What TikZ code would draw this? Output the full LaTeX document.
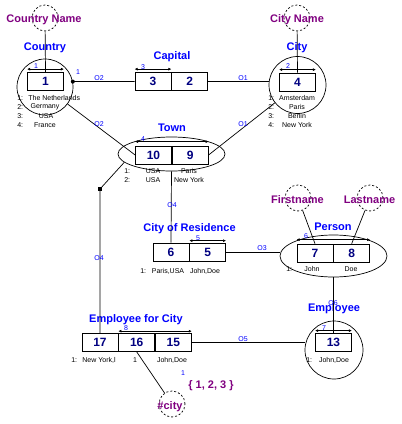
\documentclass[tikz,border=0pt]{standalone}
\usepackage{fontspec}
\setmainfont{Liberation Sans}
\usetikzlibrary{positioning,arrows.meta,shapes.geometric}
\definecolor{objblue}{RGB}{0,0,255}
\definecolor{valpurple}{RGB}{128,0,128}
\definecolor{rolenavy}{RGB}{0,0,128}
\begin{document}
\begin{tikzpicture}[x=1pt,y=-1pt,line width=0.7pt,
  role/.style={draw,rectangle,minimum width=36pt,minimum height=18pt,inner sep=0pt,
    font=\fontsize{12}{12}\selectfont\bfseries,text=rolenavy},
  entity/.style={draw,circle,minimum size=56pt,inner sep=0pt},
  nested/.style={draw,ellipse,minimum width=107pt,minimum height=36pt,inner sep=0pt},
  valuetype/.style={draw,dash pattern=on 2pt off 2pt,circle,minimum size=26pt,inner sep=0pt},
  objname/.style={font=\fontsize{11}{11}\selectfont\bfseries,text=objblue},
  valname/.style={font=\fontsize{11}{11}\selectfont\bfseries,text=valpurple},
  rolelink/.style={font=\fontsize{7}{7}\selectfont,text=objblue,inner sep=0pt},
  pop/.style={font=\fontsize{7}{7}\selectfont,inner sep=0pt},
  uniq/.style={{Latex[length=3pt,width=3pt]}-{Latex[length=3pt,width=3pt]}},
]
  \useasboundingbox (0,0) rectangle (402,424);

  % object types
  \node[valuetype] at (45,18) (cname) {};
  \node[valname] at (44,20) (cnamelbl) {Country Name};
  \node[objname] at (45,48) (countrylbl) {Country};
  \node[entity] at (45,87) (country) {};
  \node[role] at (45.5,81.5) (r1) {1};

  \node[valuetype] at (297,18) (ctname) {};
  \node[valname] at (297,20) (ctnamelbl) {City Name};
  \node[objname] at (297,48) (citylbl) {City};
  \node[entity,minimum size=57pt] at (297.5,85) (city) {};
  \node[role] at (297.5,82) (r4) {4};

  \node[objname] at (172,57) (capitallbl) {Capital};
  \node[role] at (153,81.5) (r3) {3};
  \node[role,right=0pt of r3] (r2) {2};

  \node[objname] at (172,128) (townlbl) {Town};
  \node[nested,minimum height=34pt] at (171.5,154) (town) {};
  \node[role] at (153.5,155) (r10) {10};
  \node[role,right=0pt of r10] (r9) {9};

  \node[objname] at (189.5,229) (resilbl) {City of Residence};
  \node[role] at (171,252) (r6) {6};
  \node[role,right=0pt of r6] (r5) {5};

  \node[valuetype] at (298,198) (fname) {};
  \node[valname] at (297.5,200) (fnamelbl) {Firstname};
  \node[valuetype] at (370,198) (lname) {};
  \node[valname] at (369.5,200) (lnamelbl) {Lastname};
  \node[objname] at (333,227) (personlbl) {Person};
  \node[nested,minimum height=42pt] at (333.5,256) (person) {};
  \node[role] at (315,253) (r7) {7};
  \node[role,right=0pt of r7] (r8) {8};

  \node[objname] at (334,309) (employeelbl) {Employee};
  \node[entity,minimum size=58pt] at (334,350) (employee) {};
  \node[role] at (333.5,342) (r13) {13};

  \node[objname] at (136,320) (efclbl) {Employee for City};
  \node[role] at (100,342.5) (r17) {17};
  \node[role,right=0pt of r17] (r16) {16};
  \node[role,right=0pt of r16] (r15) {15};

  \node[valuetype] at (172,404) (cityval) {};
  \node[valname] at (170,407) (cityvallbl) {\#city};
  \node[valname] at (211,386) (cityvalset) {\{ 1, 2, 3 \}};
  \node[rolelink] at (183,373) (cityvalnr) {1};

  % uniqueness constraints
  \draw[uniq] ([yshift=3pt]r1.north west) -- ([yshift=3pt]r1.north east);
  \draw[uniq] ([yshift=3pt]r4.north west) -- ([yshift=3pt]r4.north east);
  \draw[uniq] ([yshift=3pt]r3.north west) -- ([yshift=3pt]r3.north east);
  \draw[uniq] ([yshift=4pt]r10.north west) -- ([yshift=4pt]r9.north east);
  \draw[uniq] ([yshift=2pt]r5.north west) -- ([yshift=2pt]r5.north east);
  \draw[uniq] ([yshift=4pt]r7.north west) -- ([yshift=4pt]r8.north east);
  \draw[uniq] ([yshift=2pt]r13.north west) -- ([yshift=2pt]r13.north east);
  \draw[uniq] ([yshift=2pt]r16.north west) -- ([yshift=2pt]r15.north east);
  \node[rolelink] at (36,66) (u1) {1};
  \node[rolelink] at (288,66) (u2) {2};
  \node[rolelink] at (143,67) (u3) {3};
  \node[rolelink] at (143,139) (u4) {4};
  \node[rolelink] at (198,238) (u5) {5};
  \node[rolelink] at (306,236) (u6) {6};
  \node[rolelink] at (324,328) (u7) {7};
  \node[rolelink] at (126,328) (u8) {8};

  % connectors
  \draw (cname) -- (r1.north);
  \draw (ctname) -- (r4.north);
  \draw (r3.west) -- (country.11);
  \fill (country.11) circle (2pt);
  \node[rolelink] at (78,72) (mand) {1};
  \draw (r2.east) -- (city.173);
  \draw (r10.west) -- (country);
  \draw (r9.east) -- (city);
  \node[fill,inner sep=0pt,minimum size=4pt] at (100,189) (mark) {};
  \draw (town.190) -- (mark.center) -- (r17.north);
  \draw (town.south) -- (r6.north);
  \draw (r5.east) -- (r5.east -| person.west);
  \draw (fname) -- (r7.north);
  \draw (lname) -- (r8.north);
  \draw (person.south) -- (r13.north);
  \draw (r15.east) -- (r15.east -| employee.west);
  \draw (r16.south) -- (cityval);

  \node[rolelink] at (99,78) (o2a) {O2};
  \node[rolelink] at (99,124) (o2b) {O2};
  \node[rolelink] at (243,78) (o1a) {O1};
  \node[rolelink] at (243,124) (o1b) {O1};
  \node[rolelink] at (172,205) (o4a) {O4};
  \node[rolelink] at (99,258) (o4b) {O4};
  \node[rolelink] at (262,248) (o3) {O3};
  \node[rolelink] at (333,303) (o6) {O6};
  \node[rolelink] at (243,339) (o5) {O5};

  % populations
  \node[pop,anchor=west] at (17,98) (pc1) {1:};
  \node[pop,anchor=west] at (17,107) (pc2) {2:};
  \node[pop,anchor=west] at (17,116) (pc3) {3:};
  \node[pop,anchor=west] at (17,125) (pc4) {4:};
  \node[pop,anchor=west] at (28,98) (pc1v) {The Netherlands};
  \node[pop] at (45,107) (pc2v) {Germany};
  \node[pop] at (46,116) (pc3v) {USA};
  \node[pop] at (45,125) (pc4v) {France};

  \node[pop,anchor=west] at (268,98) (pt1) {1:};
  \node[pop,anchor=west] at (268,107) (pt2) {2:};
  \node[pop,anchor=west] at (268,116) (pt3) {3:};
  \node[pop,anchor=west] at (268,125) (pt4) {4:};
  \node[pop] at (297,98) (pt1v) {Amsterdam};
  \node[pop] at (297,107) (pt2v) {Paris};
  \node[pop] at (297,116) (pt3v) {Berlin};
  \node[pop] at (297,125) (pt4v) {New York};

  \node[pop,anchor=west] at (124,171) (pw1) {1:};
  \node[pop,anchor=west] at (124,180) (pw2) {2:};
  \node[pop] at (153,171) (pw1a) {USA};
  \node[pop] at (153,180) (pw2a) {USA};
  \node[pop] at (189,171) (pw1b) {Paris};
  \node[pop] at (189,180) (pw2b) {New York};

  \node[pop,anchor=west] at (140,271) (pr1) {1:};
  \node[pop] at (168,271) (pr1a) {Paris,USA};
  \node[pop] at (205,271) (pr1b) {John,Doe};

  \node[pop,anchor=west] at (286,269) (pp1) {1:};
  \node[pop] at (312,269) (pp1a) {John};
  \node[pop] at (351,269) (pp1b) {Doe};

  \node[pop,anchor=west] at (306,360) (pe1) {1:};
  \node[pop] at (334,360) (pe1a) {John,Doe};

  \node[pop,anchor=west] at (71,360) (pf1) {1:};
  \node[pop] at (99,360) (pf1a) {New York,l};
  \node[pop] at (135,360) (pf1b) {1};
  \node[pop] at (172,360) (pf1c) {John,Doe};
\end{tikzpicture}
\end{document}
